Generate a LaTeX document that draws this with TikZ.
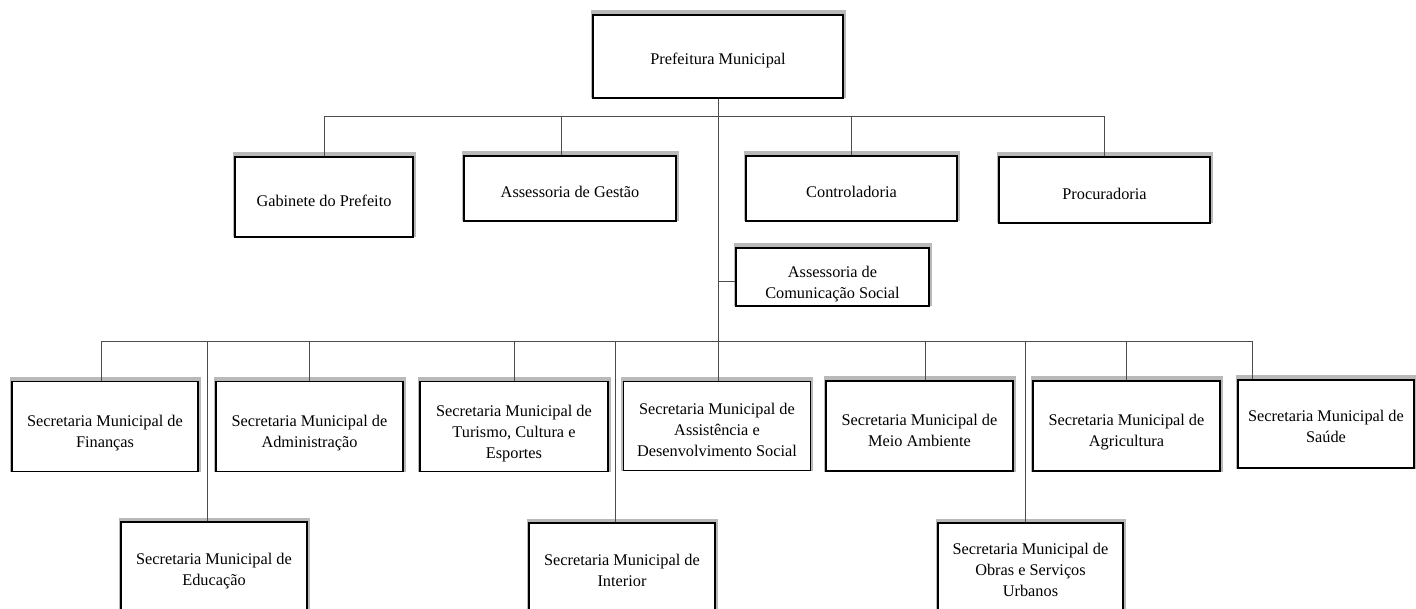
\documentclass[tikz,border=0pt]{standalone}
\usepackage{fontspec}
\setmainfont{Liberation Serif}
\usetikzlibrary{calc}
\tikzset{
  box/.style={draw=black, line width=1.6pt, fill=white, inner sep=0pt, align=center,
    font=\fontsize{16.3}{21}\selectfont,
    preaction={draw=gray!55, line width=5pt, transform canvas={yshift=2pt}}},
  pad/.style={execute at begin node={\rule{0pt}{#1pt}}},
  conn/.style={draw=black!70, line width=0.9pt}
}
\begin{document}
\begin{tikzpicture}[x=1pt,y=-1pt]
\useasboundingbox (0,0) rectangle (1416,609);
\fill[white] (0,0) rectangle (1416,609);
\clip (0,0) rectangle (1416,609);
% top
\node[box, pad=19, minimum width=250, minimum height=83] (pref) at (718,56.5) {Prefeitura Municipal};
% row 1
\node[box, pad=19, minimum width=178, minimum height=80] (gab) at (324,197) {Gabinete do Prefeito};
\node[box, pad=19, minimum width=212, minimum height=65] (gest) at (570,188.5) {Assessoria de Gestão};
\node[box, pad=19, minimum width=211, minimum height=65] (contr) at (851.5,188.5) {Controladoria};
\node[box, pad=19, minimum width=211, minimum height=66] (proc) at (1104.5,190) {Procuradoria};
\node[box, pad=46, minimum width=193, minimum height=58] (csoc) at (832.5,277) {Assessoria de\\Comunicação Social};
% row 2
\node[box, pad=44.5, minimum width=186, minimum height=90] (fin) at (105,426.5) {Secretaria Municipal de\\Finanças};
\node[box, pad=44.5, minimum width=187, minimum height=90] (adm) at (309.5,426.5) {Secretaria Municipal de\\Administração};
\node[box, pad=67, minimum width=188, minimum height=90] (tur) at (514,426.5) {Secretaria Municipal de\\Turismo, Cultura e\\Esportes};
\node[box, pad=60.5, minimum width=187, minimum height=89] (assist) at (717,426) {Secretaria Municipal de\\Assistência e\\Desenvolvimento Social};
\node[box, pad=41.5, minimum width=187, minimum height=90] (meio) at (919.5,426) {Secretaria Municipal de\\Meio Ambiente};
\node[box, pad=44.5, minimum width=187, minimum height=90] (agri) at (1126.5,426) {Secretaria Municipal de\\Agricultura};
\node[box, pad=36.5, minimum width=176, minimum height=88] (saude) at (1326,424) {Secretaria Municipal de\\Saúde};
% row 3
\node[box, pad=36.5, minimum width=186, minimum height=94] (edu) at (214,569) {Secretaria Municipal de\\Educação};
\node[box, minimum width=186, minimum height=94] (inter) at (622,570) {Secretaria Municipal de\\Interior};
\node[box, minimum width=185, minimum height=94] (obras) at (1030.5,570) {Secretaria Municipal de\\Obras e Serviços\\Urbanos};
% bus coordinates
\coordinate (b1) at (718,116);
\coordinate (b2) at (718,341);
\coordinate (cgest) at ([xshift=-9pt]gest.north);
\coordinate (cfin) at ([xshift=-4pt]fin.north);
\coordinate (cmeio) at ([xshift=5.5pt]meio.north);
\coordinate (csau) at ([xshift=-74pt]saude.north);
\coordinate (cedu) at ([xshift=-7pt]edu.north);
\coordinate (cint) at ([xshift=-7pt]inter.north);
\coordinate (cobr) at ([xshift=-5.5pt]obras.north);
% trunk
\draw[conn] (pref.south) -- (pref.south |- assist.north);
% row 1 bus
\draw[conn] (gab.north) -- (gab.north |- b1) -- (proc.north |- b1) -- (proc.north);
\draw[conn] (cgest) -- (cgest |- b1);
\draw[conn] (contr.north) -- (contr.north |- b1);
% comunicação social
\draw[conn] ([yshift=-4pt]csoc.west) -- ([yshift=-4pt]csoc.west -| pref.south);
% row 2 bus
\draw[conn] (cfin) -- (cfin |- b2) -- (csau |- b2) -- (csau);
\draw[conn] (adm.north) -- (adm.north |- b2);
\draw[conn] (tur.north) -- (tur.north |- b2);
\draw[conn] (cmeio) -- (cmeio |- b2);
\draw[conn] (agri.north) -- (agri.north |- b2);
% row 3
\draw[conn] (cedu) -- (cedu |- b2);
\draw[conn] (cint) -- (cint |- b2);
\draw[conn] (cobr) -- (cobr |- b2);
\end{tikzpicture}
\end{document}
